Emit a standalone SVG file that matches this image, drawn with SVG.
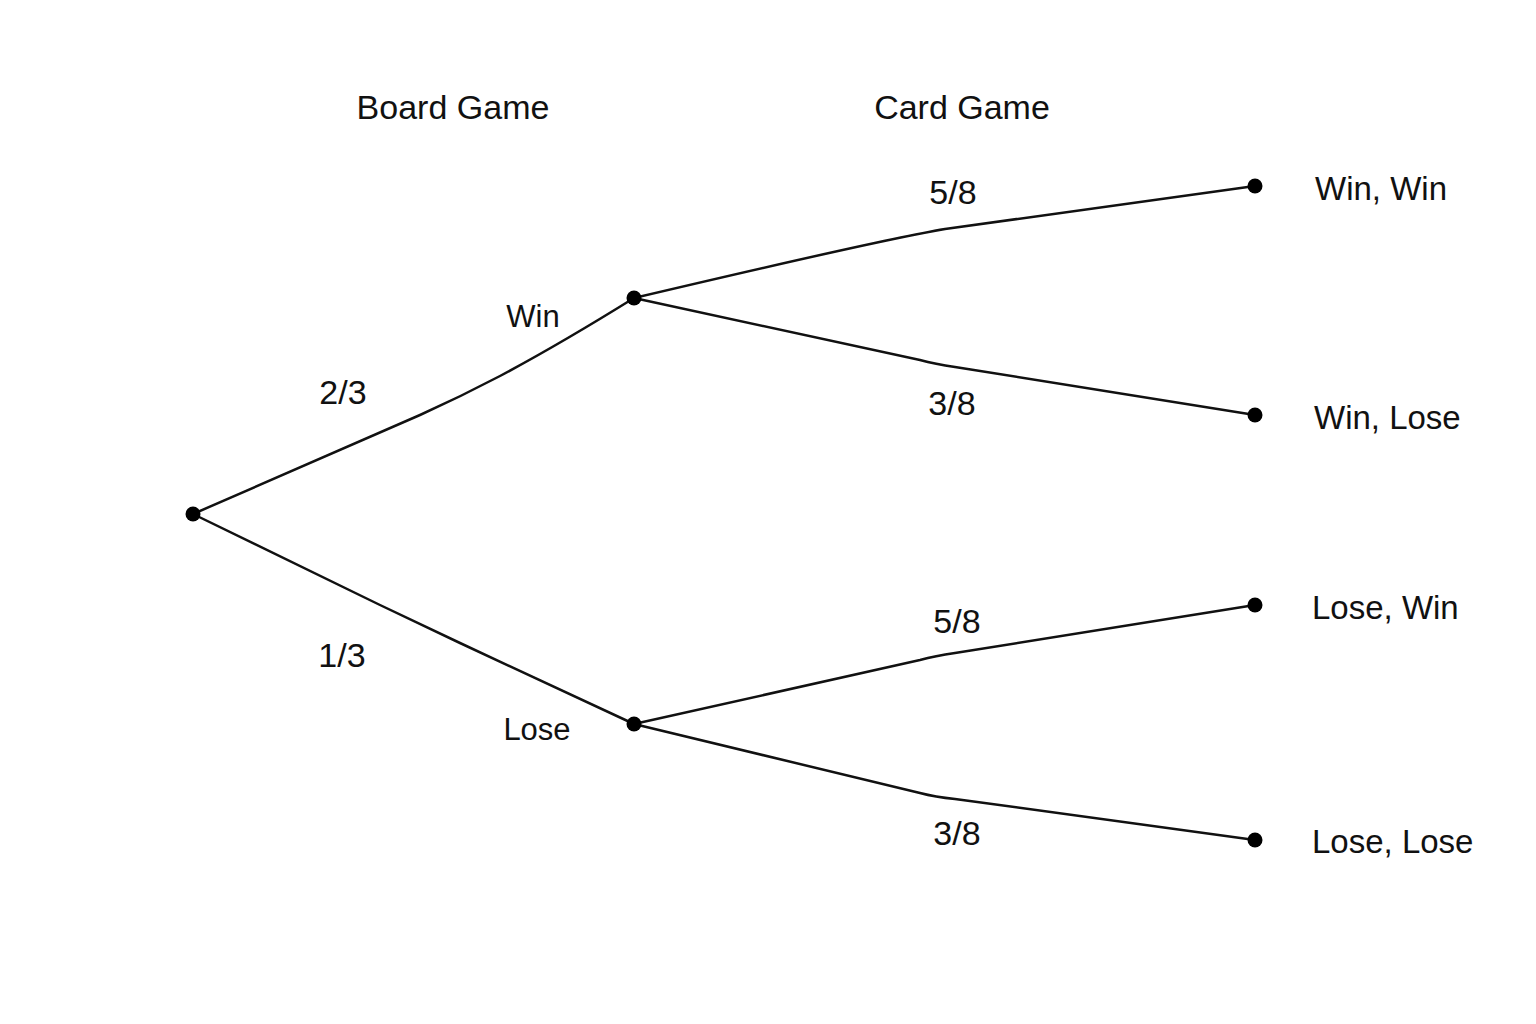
<svg xmlns="http://www.w3.org/2000/svg" width="1536" height="1024" viewBox="0 0 1536 1024">
<style>
.t{font-family:"Liberation Sans",Arial,sans-serif;fill:#111;font-size:33px}
.c{text-anchor:middle}
.n{font-size:34px}
.e{fill:none;stroke:#111;stroke-width:2.5;stroke-linecap:round;stroke-linejoin:round}
.d{fill:#000}
</style>
<rect width="1536" height="1024" fill="#fff"/>
<g id="headers">
<text class="t c" x="453" y="119" style="font-size:34px">Board Game</text>
<text class="t c" x="962" y="119" style="font-size:34px">Card Game</text>
</g>
<g id="connectors">
<path class="e" d="M193,514 L420,415 Q460,397 500,376 Q560,344 634,298"/>
<path class="e" d="M193,514 L380,605 Q420,624 460,643 L634,724"/>
<path class="e" d="M634,298 Q880,240 945,229 L1255,186"/>
<path class="e" d="M634,298 L920,360 Q935,364 955,367 L1255,415"/>
<path class="e" d="M634,724 L920,660 Q935,656 955,653 L1255,605"/>
<path class="e" d="M634,724 L920,793 Q935,797 955,799 L1255,840"/>
</g>
<g id="edge-labels">
<text class="t c n" x="343" y="404">2/3</text>
<text class="t c n" x="342" y="667">1/3</text>
<text class="t c n" x="953" y="204">5/8</text>
<text class="t c n" x="952" y="415">3/8</text>
<text class="t c n" x="957" y="633">5/8</text>
<text class="t c n" x="957" y="845">3/8</text>
</g>
<g id="root"><circle class="d" cx="193" cy="514" r="7.5"/></g>
<g id="node-win"><circle class="d" cx="634" cy="298" r="7.5"/><text class="t c" x="533" y="327" style="font-size:31px">Win</text></g>
<g id="node-lose"><circle class="d" cx="634" cy="724" r="7.5"/><text class="t c" x="537" y="740" style="font-size:31px">Lose</text></g>
<g id="leaf-ww"><circle class="d" cx="1255" cy="186" r="7.5"/><text class="t" x="1315" y="200">Win, Win</text></g>
<g id="leaf-wl"><circle class="d" cx="1255" cy="415" r="7.5"/><text class="t" x="1314" y="429">Win, Lose</text></g>
<g id="leaf-lw"><circle class="d" cx="1255" cy="605" r="7.5"/><text class="t" x="1312" y="619">Lose, Win</text></g>
<g id="leaf-ll"><circle class="d" cx="1255" cy="840" r="7.5"/><text class="t" x="1312" y="853">Lose, Lose</text></g>
</svg>
